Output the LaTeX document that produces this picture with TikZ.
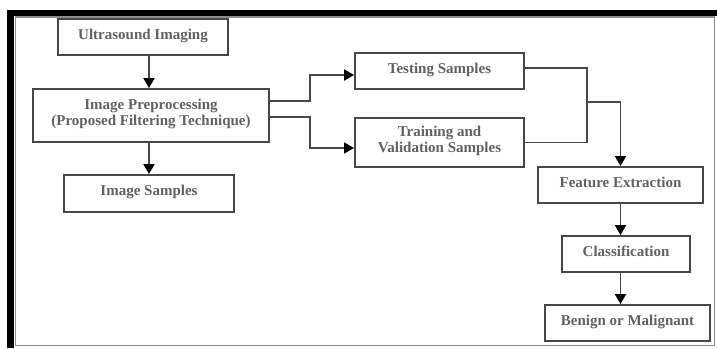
\documentclass[tikz,border=0pt]{standalone}
\usepackage{fontspec}
\setmainfont{Liberation Serif}
\usetikzlibrary{positioning,arrows.meta,calc}
\tikzset{block/.style={draw=black!72,line width=1.9pt,minimum height=36pt,align=center,inner sep=2pt,
                       font=\fontsize{15}{16.5}\selectfont\bfseries,text=black!62,text depth=6pt},
         line/.style={draw=black!72,line width=1.9pt}
}
\tikzstyle{arrow} = [line,-{Triangle[length=10pt,width=11pt,color=black]}]

\begin{document}
\begin{tikzpicture}[x=1pt,y=-1pt]
\useasboundingbox (0,0) rectangle (717,348);
\fill[black] (7,10) rectangle (717,15.5);
\fill[black] (7,10) rectangle (13.5,348);
\draw[black!45,line width=1.6pt] (15.5,17) rectangle (714.5,345.5);

\node[block,minimum width=170pt] (ultra) at (143,37) {Ultrasound Imaging};
\node[block,minimum width=236pt,minimum height=53pt] (prep) at (151,115.5) {Image Preprocessing\\(Proposed Filtering Technique)};
\node[block,minimum width=170pt,minimum height=37pt] (samples) at (149,193.5) {Image Samples};
\node[block,minimum width=169pt] (testing) at (439.5,71) {Testing Samples};
\node[block,minimum width=169pt,minimum height=49pt] (training) at (439.5,142.5) {Training and\\Validation Samples};
\node[block,minimum width=165pt] (feature) at (620.5,185) {Feature Extraction};
\node[block,minimum width=128pt] (classif) at (626,254) {Classification};
\node[block,minimum width=165pt] (benign) at (627.5,323) {Benign or Malignant};
\coordinate (split) at (310,0);
\coordinate (merge) at (587,102);

\draw[arrow] (ultra.south -| samples) -- (prep.north -| samples);
\draw[arrow] (prep.south -| samples) -- (samples.north);
\draw[arrow] ([yshift=14.5pt]prep.east) -| ([yshift=-4pt]split |- testing.west) -- ([yshift=-4pt]testing.west);
\draw[arrow] ([yshift=-1.5pt]prep.east) -| ([yshift=-5.5pt]split |- training.west) -- ([yshift=-5.5pt]training.west);
\draw[line] ([yshift=3pt]testing.east) -| (merge) |- (training.east);
\draw[arrow] (merge) -| (feature.north);
\draw[arrow] (feature.south) -- (feature.south |- classif.north);
\draw[arrow] (classif.south -| feature) -- (benign.north -| feature);

\end{tikzpicture}
\end{document}
